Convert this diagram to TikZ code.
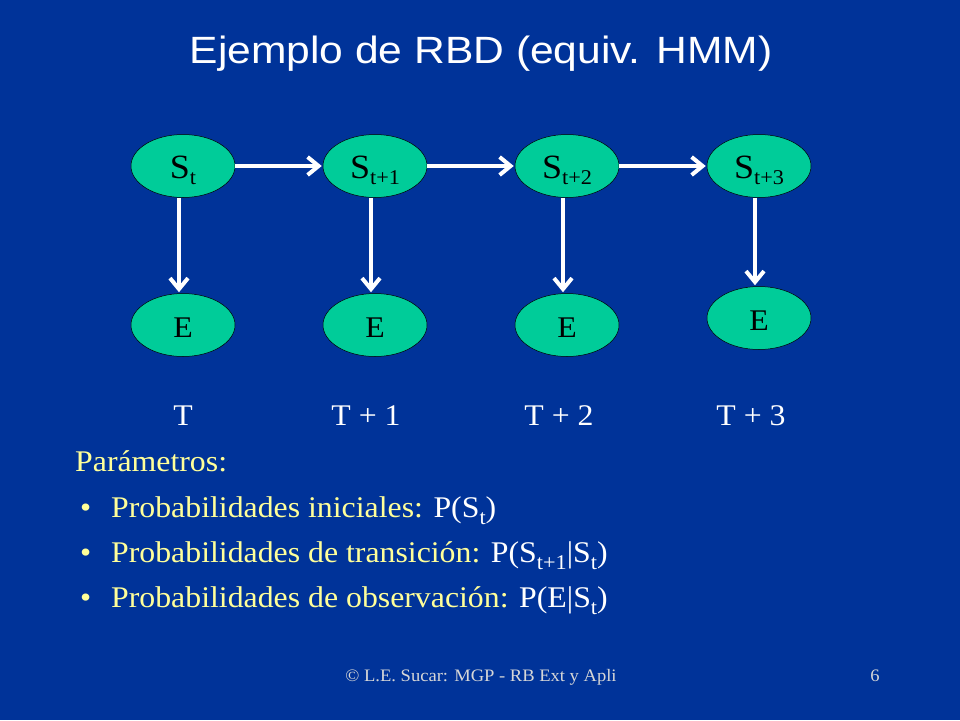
\documentclass[tikz,border=0pt]{standalone}
\usepackage{fontspec}
\setmainfont{Liberation Serif}[FakeStretch=1.06]
\newfontfamily\titlefont{Liberation Sans}[FakeStretch=1.12]
\usetikzlibrary{arrows.meta,shapes.geometric}
\definecolor{slideblue}{RGB}{0,51,153}
\definecolor{nodegreen}{RGB}{0,204,153}
\definecolor{textyellow}{RGB}{255,255,153}
\definecolor{footgrey}{RGB}{215,215,215}
\newcommand{\lowsub}[1]{\raisebox{-0.2em}{\fontsize{21}{21}\selectfont #1}}
\newcommand{\txtsub}[1]{\raisebox{-0.25em}{\fontsize{21}{21}\selectfont #1}}

\begin{document}
\begin{tikzpicture}[x=1pt,y=-1pt,
    var/.style={ellipse,draw=black,line width=0.5pt,fill=nodegreen,
      minimum width=104pt,minimum height=63pt,inner sep=0pt,
      text height=24pt,text depth=0pt},
    link/.style={white,line width=4pt,
      -{Straight Barb[length=11pt,width=18pt]},shorten >=1pt},
    label/.style={anchor=base,inner sep=0pt,text=white,font=\fontsize{30}{32}\selectfont},
    param/.style={anchor=base west,inner sep=0pt,text=textyellow,font=\fontsize{30}{32}\selectfont}]
    \fill[slideblue] (0,0) rectangle (960,720);
    \node[anchor=base,inner sep=0pt,text=white,font=\titlefont\fontsize{38}{40}\selectfont]
      (title) at (481,63) {Ejemplo de RBD (equiv. HMM)};
    % estados
    \node[var,font=\fontsize{34}{36}\selectfont] (s0) at (183,166) {S\lowsub{t}};
    \node[var,font=\fontsize{34}{36}\selectfont] (s1) at (375,166) {S\lowsub{t+1}};
    \node[var,font=\fontsize{34}{36}\selectfont] (s2) at (567,166) {S\lowsub{t+2}};
    \node[var,font=\fontsize{34}{36}\selectfont] (s3) at (759,166) {S\lowsub{t+3}};
    % observaciones
    \node[var,font=\fontsize{30}{32}\selectfont] (e0) at (183,325) {E};
    \node[var,font=\fontsize{30}{32}\selectfont] (e1) at (375,325) {E};
    \node[var,font=\fontsize{30}{32}\selectfont] (e2) at (567,325) {E};
    \node[var,font=\fontsize{30}{32}\selectfont] (e3) at (759,318) {E};
    \draw[link] (s0) -- (s1);
    \draw[link] (s1) -- (s2);
    \draw[link] (s2) -- (s3);
    \foreach \i in {0,1,2,3}
      \draw[link] ([xshift=-4pt]s\i.south) -- ([xshift=-4pt]e\i.north);
    % tiempos
    \node[label] (t0) at (183,425) {T};
    \node[label] (t1) at (366,425) {T + 1};
    \node[label] (t2) at (559,425) {T + 2};
    \node[label] (t3) at (751,425) {T + 3};
    % parametros
    \node[param] (par) at (75,471) {Parámetros:};
    \node[param] (p0) at (75,517) {\makebox[36pt][l]{\,•}Probabilidades iniciales: \textcolor{white}{P(S\txtsub{t})}};
    \node[param] (p1) at (75,562) {\makebox[36pt][l]{\,•}Probabilidades de transición: \textcolor{white}{P(S\txtsub{t+1}|S\txtsub{t})}};
    \node[param] (p2) at (75,607) {\makebox[36pt][l]{\,•}Probabilidades de observación: \textcolor{white}{P(E|S\txtsub{t})}};
    % pie
    \node[anchor=base,inner sep=0pt,text=footgrey,font=\fontsize{17.5}{19}\selectfont]
      (foot) at (481,681) {© L.E. Sucar: MGP - RB Ext y Apli};
    \node[anchor=base,inner sep=0pt,text=footgrey,font=\fontsize{17.5}{19}\selectfont]
      (page) at (875,681) {6};
\end{tikzpicture}
\end{document}
